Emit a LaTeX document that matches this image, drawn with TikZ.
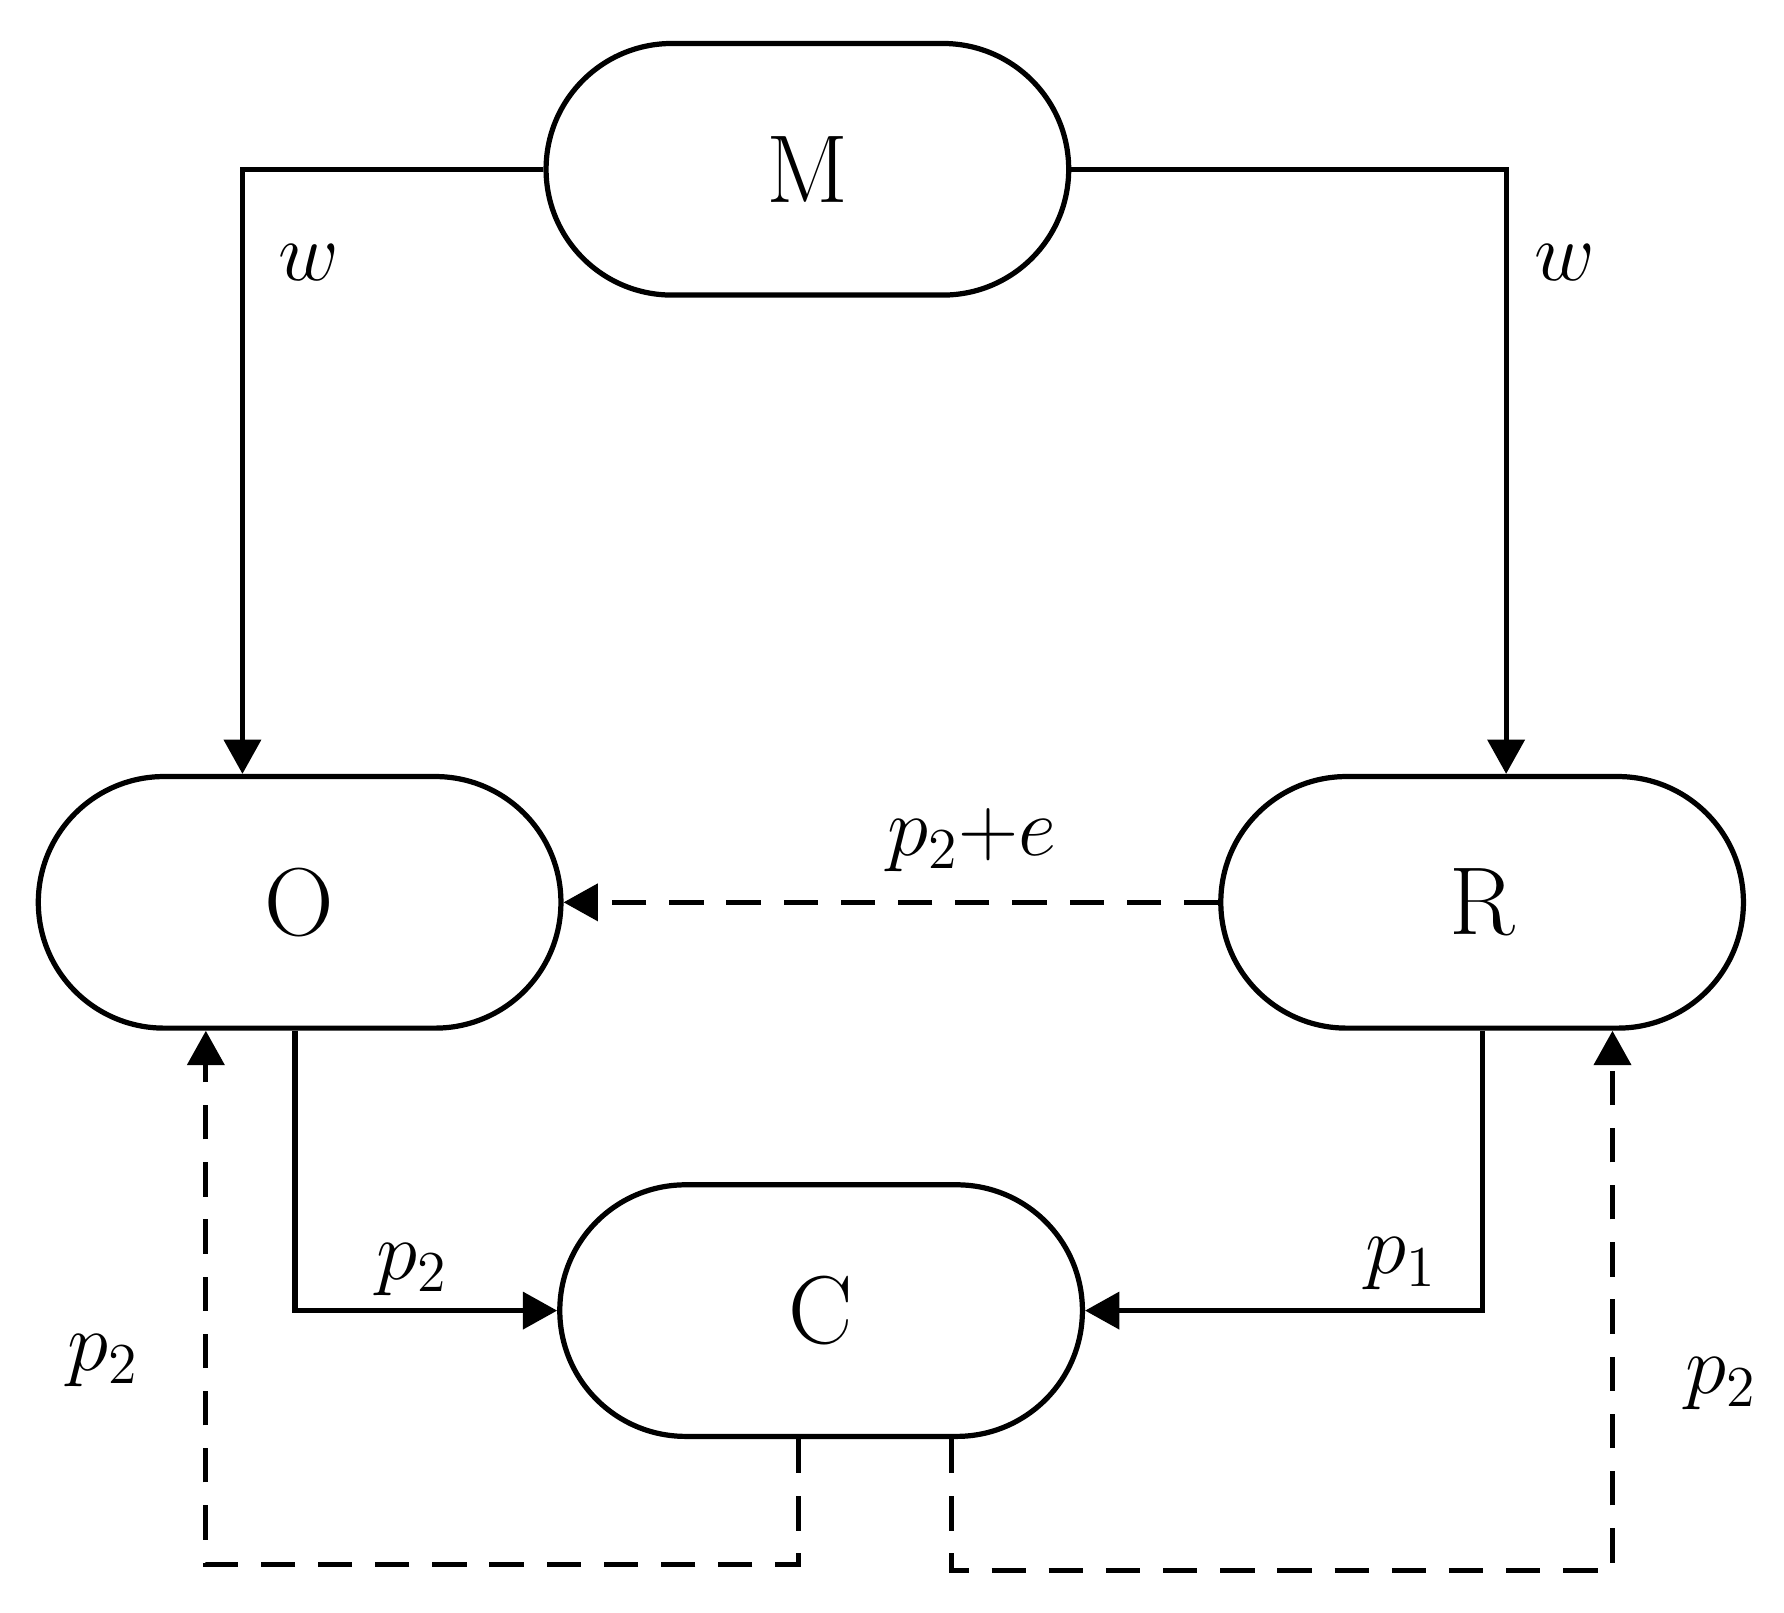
\documentclass[tikz,border=0pt]{standalone}
\usetikzlibrary{arrows.meta, positioning}

\begin{document}
\begin{tikzpicture}[
    block/.style={rectangle, draw, line width=1.3pt, rounded corners=1.1cm, minimum width=4.57cm, minimum height=2.2cm, align=center, font=\fontsize{24}{28}\selectfont},
    arrow/.style={-{Triangle[length=0.3cm, width=0.32cm]}, line width=1.3pt},
    dashedarrow/.style={arrow, dash pattern=on 0.3cm off 0.2cm},
    lbl/.style={font=\fontsize{22}{26}\selectfont},
    ]
    \useasboundingbox (0,0) rectangle (15.6,-14.1);
    % Nodes
    \node[block] (M) at (7.06,-1.48) {M};
    \node[block] (O) at (2.62,-7.89) {O};
    \node[block] (R) at (12.96,-7.89) {R};
    \node[block] (C) at (7.18,-11.46) {C};

    % Edges
    \draw[arrow] (M.west) -| ([xshift=-0.5cm]O.north);
    \draw[arrow] (M.east) -| ([xshift=0.21cm]R.north);
    \draw[dashedarrow] (R.west) -- (O.east);
    \draw[arrow] ([xshift=-0.04cm]O.south) |- (C.west);
    \draw[arrow] (R.south) |- (C.east);
    \draw[dashedarrow] ([xshift=-0.2cm]C.south) -- ++(0,-1.1) -| ([xshift=-0.82cm]O.south);
    \draw[dashedarrow] ([xshift=1.14cm]C.south) -- ++(0,-1.15) -| ([xshift=1.14cm]R.south);

    % Labels
    \node[lbl] (wl) at (2.7,-2.3) {$w$};
    \node[lbl] (wr) at (13.68,-2.3) {$w$};
    \node[lbl] (pe) at (8.5,-7.35) {$p_2{+}e$};
    \node[lbl] (po) at (3.6,-11.1) {$p_2$};
    \node[lbl] (pr) at (12.25,-11.05) {$p_1$};
    \node[lbl] (pl) at (0.9,-11.9) {$p_2$};
    \node[lbl] (pb) at (15.05,-12.1) {$p_2$};
\end{tikzpicture}
\end{document}
